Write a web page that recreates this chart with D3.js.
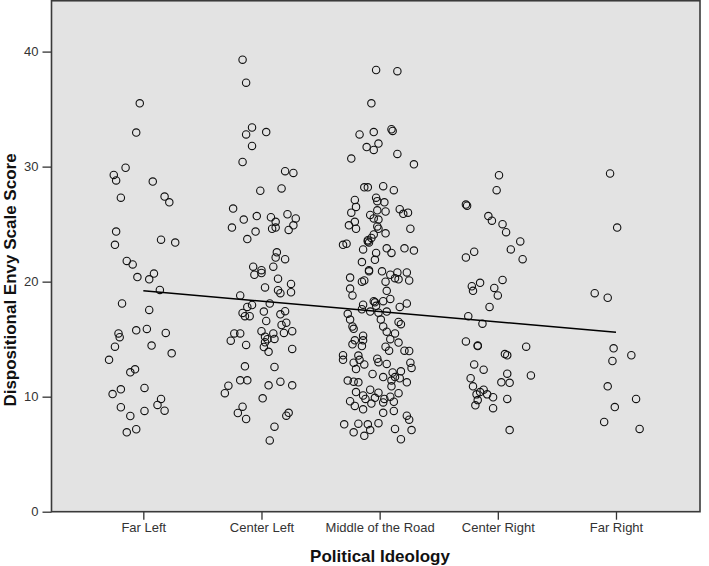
<!DOCTYPE html>
<html>
<head>
<meta charset="utf-8">
<script src="https://cdn.jsdelivr.net/npm/d3@7"></script>
<style>
  body { margin: 0; background: #fff; }
  svg { display: block; font-family: "Liberation Sans", Arial, sans-serif; }
</style>
</head>
<body>
<svg id="chart" width="709" height="566"></svg>
<script>
// categories on the x axis (coded 1..5)
const categories = ["Far Left", "Center Left", "Middle of the Road", "Center Right", "Far Right"];
const yTicks = [0, 10, 20, 30, 40];

// envy scores per group, with the jitter (in category units) the plot applied
const farLeftScores = [35.5, 32.96, 29.9, 29.28, 28.8, 28.7, 27.3, 27.4, 26.9, 24.35, 23.2, 23.65, 23.4, 21.8, 21.5,
  20.7, 20.4, 20.2, 19.28, 18.1, 17.54, 15.5, 15.17, 15.77, 15.89, 15.54, 14.35, 14.44, 13.77, 13.2, 12.38, 12.12,
  10.64, 10.23, 10.76, 9.8, 9.28, 8.78, 9.08, 8.76, 8.32, 6.9, 7.17];
const farLeftJitter = [-0.03, -0.06, -0.15, -0.25, -0.23, 0.08, -0.19, 0.18, 0.22, -0.23, -0.24, 0.15, 0.27, -0.14, -0.09,
  0.09, -0.05, 0.05, 0.14, -0.18, 0.05, -0.21, -0.20, -0.06, 0.03, 0.19, -0.24, 0.07, 0.24, -0.29, -0.07, -0.11,
  -0.19, -0.26, 0.01, 0.15, 0.12, 0.18, -0.19, 0.01, -0.11, -0.14, -0.06];

const centerLeftScores = [39.3, 37.3, 33.4, 32.8, 33.0, 31.8, 30.4, 29.6, 29.45, 27.9, 28.1, 26.35, 25.4, 25.7, 24.7,
  23.7, 24.35, 25.6, 25.2, 24.6, 24.7, 25.86, 25.5, 24.9, 24.5, 22.55, 22.1, 21.95, 21.3, 21.3, 21.0, 20.6, 20.75,
  20.26, 19.8, 19.5, 19.25, 19.0, 19.08, 18.8, 17.8, 17.97, 18.1, 17.28, 17.0, 17.0, 17.4, 17.16, 17.43, 16.58,
  16.23, 16.43, 15.5, 15.5, 14.87, 14.5, 15.69, 15.5, 15.54, 15.69, 15.22, 14.99, 14.73, 15.02, 14.32, 13.9, 14.15,
  12.64, 12.58, 11.42, 11.42, 10.96, 10.99, 11.3, 10.99, 10.3, 9.86, 9.13, 8.58, 8.06, 8.35, 8.6, 7.39, 6.2];
const centerLeftJitter = [-0.16, -0.13, -0.08, -0.13, 0.04, -0.08, -0.16, 0.20, 0.27, -0.01, 0.17, -0.24, -0.15, -0.04, -0.25,
  -0.12, -0.05, 0.08, 0.12, 0.09, 0.12, 0.22, 0.29, 0.27, 0.23, 0.13, 0.12, 0.20, -0.07, 0.10, 0.00, -0.06, 0.00,
  0.14, 0.25, 0.03, 0.14, 0.16, 0.25, -0.18, -0.12, -0.08, 0.07, -0.16, -0.14, -0.10, 0.02, 0.16, 0.20, 0.04,
  0.17, 0.21, -0.23, -0.18, -0.26, -0.13, 0.00, 0.10, 0.19, 0.26, 0.03, 0.05, 0.03, 0.11, 0.02, 0.06, 0.26,
  -0.14, 0.11, -0.18, -0.12, -0.28, 0.06, 0.16, 0.26, -0.31, 0.01, -0.16, -0.20, -0.13, 0.21, 0.23, 0.11, 0.07];

const middleScores = [38.4, 38.3, 35.5, 33.25, 33.1, 32.8, 33.0, 32.0, 31.7, 31.45, 30.7, 31.1, 30.2, 28.2, 28.2, 28.3,
  27.95, 27.1, 27.3, 27.0, 26.9, 26.5, 26.0, 26.2, 26.1, 26.3, 25.9, 26.0, 25.8, 25.5, 25.4, 24.9, 25.2, 24.6, 24.8,
  24.6, 24.6, 24.2, 24.1, 23.8, 23.6, 23.5, 23.4, 23.2, 23.3, 22.8, 22.9, 22.5, 22.9, 22.7, 22.5, 21.9, 21.7, 21.0,
  20.9, 20.9, 20.6, 20.8, 20.8, 20.3, 20.2, 20.1, 20.35, 20.1, 20.0, 20.0, 19.4, 18.8, 19.2, 18.5, 18.3, 18.2, 18.3,
  18.0, 17.6, 17.9, 17.8, 18.1, 17.2, 17.4, 17.3, 17.4, 16.7, 16.7, 16.5, 16.3, 16.1, 16.1, 15.9, 15.65, 15.5, 15.3,
  14.9, 14.9, 15.0, 14.7, 14.55, 14.4, 14.35, 14.0, 14.0, 13.97, 13.6, 13.2, 13.57, 13.3, 13.0, 12.95, 13.2, 12.8,
  12.85, 12.95, 12.5, 12.4, 11.97, 11.7, 12.1, 12.2, 11.7, 11.6, 11.25, 11.4, 11.3, 11.25, 11.4, 10.9, 10.6, 10.4,
  10.35, 10.1, 10.3, 9.6, 9.8, 9.9, 9.8, 10.0, 9.56, 9.4, 9.5, 9.2, 8.9, 8.76, 8.6, 8.35, 8.0, 7.6, 7.65, 7.6, 7.7,
  7.1, 6.9, 6.6, 7.2, 7.1, 6.3];
const middleJitter = [-0.03, 0.15, -0.07, 0.10, 0.11, -0.17, -0.05, -0.01, -0.11, -0.05, -0.24, 0.15, 0.29, -0.13, -0.10, 0.03,
  0.12, -0.21, -0.03, -0.02, 0.04, -0.20, -0.24, -0.02, 0.05, 0.17, 0.20, 0.24, -0.08, -0.05, -0.01, -0.26, -0.21, -0.20, -0.02,
  -0.01, 0.26, 0.05, -0.05, -0.07, -0.10, -0.10, -0.09, -0.31, -0.28, -0.14, 0.06, 0.10, 0.21, 0.29, -0.03, -0.04, -0.15, -0.09,
  -0.09, 0.02, 0.09, 0.15, 0.23, 0.13, 0.16, 0.25, -0.25, -0.13, -0.15, 0.05, -0.25, -0.23, 0.06, 0.09, -0.05, -0.04, 0.03,
  -0.14, -0.15, -0.03, 0.17, 0.23, -0.27, -0.08, -0.01, 0.06, -0.25, 0.01, 0.16, 0.18, -0.23, 0.03, -0.22, 0.06, 0.13, -0.14,
  -0.21, -0.14, 0.09, 0.16, -0.23, -0.15, 0.05, 0.08, 0.21, 0.25, -0.31, -0.31, -0.18, -0.02, -0.01, -0.22, -0.17, -0.13,
  0.06, 0.26, 0.27, -0.20, -0.06, 0.03, 0.11, 0.18, 0.13, 0.17, 0.23, -0.27, -0.22, -0.18, 0.10, 0.10, -0.08, -0.20,
  -0.01, -0.14, 0.16, -0.25, -0.12, -0.04, 0.04, 0.09, 0.12, -0.07, 0.03, -0.21, -0.14, 0.12, 0.03, 0.23, 0.25, -0.30, -0.18, -0.10, -0.01,
  -0.08, -0.22, -0.13, 0.13, 0.27, 0.18];

const centerRightScores = [29.25, 27.95, 26.7, 26.6, 25.7, 25.3, 25.0, 24.3, 23.5, 22.8, 21.95, 22.6, 22.1, 20.15, 19.9,
  19.6, 19.2, 19.45, 18.8, 17.8, 17.0, 16.35, 14.8, 14.45, 14.4, 14.35, 13.7, 13.6, 12.8, 12.35, 12.0, 11.85, 11.6,
  11.25, 11.2, 10.9, 10.6, 10.2, 10.4, 10.2, 9.95, 9.7, 9.8, 9.25, 9.0, 7.1];
const centerRightJitter = [0.01, -0.01, -0.27, -0.26, -0.08, -0.05, 0.04, 0.07, 0.19, 0.11, 0.21, -0.20, -0.27, 0.04, -0.15,
  -0.22, -0.21, -0.03, 0.00, -0.07, -0.25, -0.13, -0.27, -0.17, -0.17, 0.24, 0.06, 0.08, -0.20, -0.12, 0.08, 0.28, -0.23,
  0.03, 0.10, -0.21, -0.12, -0.18, -0.15, -0.09, -0.04, -0.17, 0.08, -0.19, -0.04, 0.10];

const farRightScores = [29.4, 24.7, 19.0, 18.6, 14.2, 13.6, 13.1, 10.9, 9.8, 9.1, 7.8, 7.2];
const farRightJitter = [-0.05, 0.01, -0.18, -0.07, -0.02, 0.13, -0.03, -0.07, 0.17, -0.01, -0.10, 0.20];

// linear fit: score at x = 1 and x = 5
const fitX = [1, 5];
const fitY = [19.2, 15.6];

const groups = [
  [farLeftScores, farLeftJitter],
  [centerLeftScores, centerLeftJitter],
  [middleScores, middleJitter],
  [centerRightScores, centerRightJitter],
  [farRightScores, farRightJitter]
];

const points = [];
groups.forEach(([scores, jitter], i) => {
  scores.forEach((s, j) => points.push({ x: i + 1 + jitter[j], y: s }));
});

const W = 709, H = 566;
const margin = { top: 0.75, right: 9, bottom: 54.3, left: 51.5 };

const svg = d3.select("#chart");

const x = d3.scaleLinear().domain([0.223, 5.711]).range([margin.left, W - margin.right]);
const y = d3.scaleLinear().domain([0, 44.42]).range([H - margin.bottom, margin.top]);

// plot background
svg.append("rect")
  .attr("x", margin.left).attr("y", margin.top)
  .attr("width", W - margin.left - margin.right)
  .attr("height", H - margin.top - margin.bottom)
  .attr("fill", "#e3e3e3");

// y axis
const yAxis = svg.append("g")
  .attr("transform", `translate(${margin.left},0)`)
  .call(d3.axisLeft(y).tickValues(yTicks).tickSize(9).tickPadding(4).tickSizeOuter(0));

// x axis
const xAxis = svg.append("g")
  .attr("transform", `translate(0,${H - margin.bottom})`)
  .call(d3.axisBottom(x).tickValues([1, 2, 3, 4, 5])
    .tickFormat(d => categories[d - 1]).tickSize(8).tickPadding(3).tickSizeOuter(0));

[yAxis, xAxis].forEach(g => {
  g.select(".domain").remove();
  g.selectAll(".tick line").attr("stroke", "#333").attr("stroke-width", 1.3);
  g.selectAll(".tick text").attr("fill", "#333").style("font-size", "13px");
});

// frame
svg.append("rect")
  .attr("x", margin.left).attr("y", margin.top)
  .attr("width", W - margin.left - margin.right)
  .attr("height", H - margin.top - margin.bottom)
  .attr("fill", "none")
  .attr("stroke", "#3a3a3a")
  .attr("stroke-width", 1.6);

// points
svg.append("g")
  .selectAll("circle")
  .data(points)
  .join("circle")
  .attr("cx", d => x(d.x))
  .attr("cy", d => y(d.y))
  .attr("r", 3.7)
  .attr("fill", "none")
  .attr("stroke", "#111")
  .attr("stroke-width", 1.1);

// fit line
svg.append("path")
  .datum(fitX.map((v, i) => [v, fitY[i]]))
  .attr("d", d3.line().x(d => x(d[0])).y(d => y(d[1])))
  .attr("fill", "none")
  .attr("stroke", "#000")
  .attr("stroke-width", 1.5);

// axis titles
svg.append("text")
  .attr("x", 380).attr("y", 562)
  .attr("text-anchor", "middle")
  .style("font-size", "17px").style("font-weight", "bold")
  .attr("fill", "#111")
  .text("Political Ideology");

svg.append("text")
  .attr("transform", "translate(15.5,280) rotate(-90)")
  .attr("text-anchor", "middle")
  .style("font-size", "17px").style("font-weight", "bold")
  .attr("fill", "#111")
  .text("Dispositional Envy Scale Score");
</script>
</body>
</html>
